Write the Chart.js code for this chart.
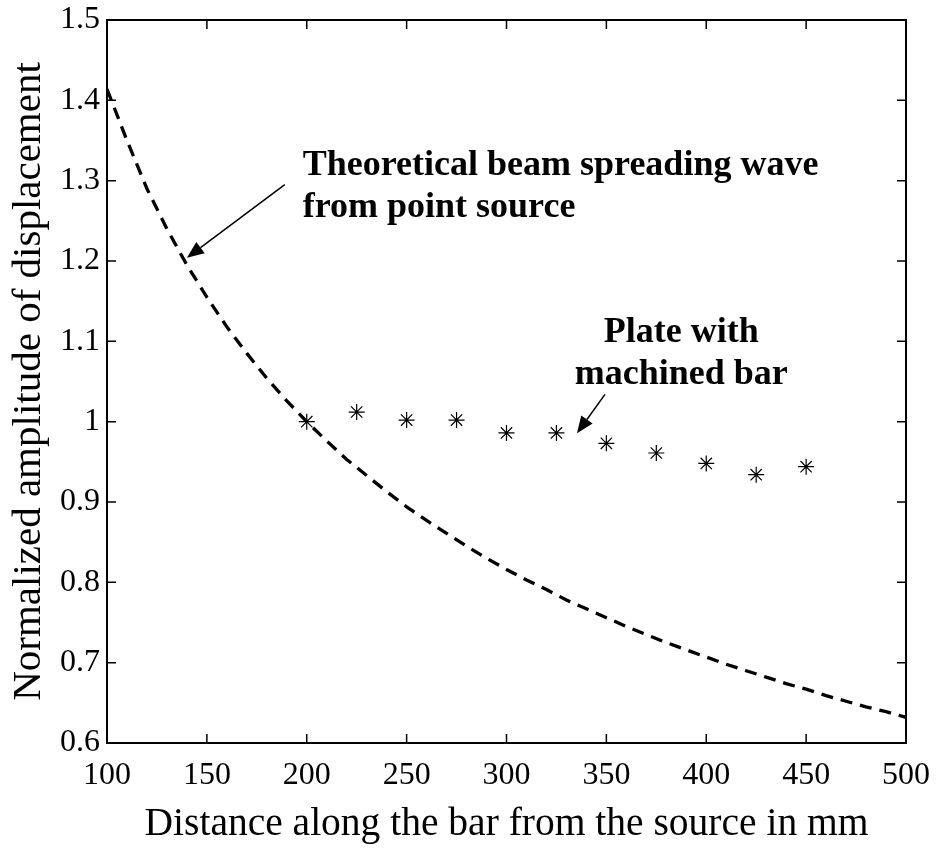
<!DOCTYPE html>
<html lang="en">
<head>
    <meta charset="UTF-8">
    <title>Normalized amplitude vs distance</title>
    <script src="https://cdn.jsdelivr.net/npm/chart.js"></script>
    <style>
        body {
            margin: 0;
            padding: 0;
            background: #ffffff;
        }
        .chart-box {
            width: 940px;
            height: 852px;
        }
    </style>
</head>
<body>
    <div class="chart-box">
        <canvas id="ampChart" width="940" height="852"></canvas>
    </div>

    <script>
        // Theoretical beam spreading curve
        const theoryX = [100, 110, 120, 130, 140, 150, 160, 170, 180, 190, 200, 210, 220, 230, 240, 250, 260, 270, 280, 290, 300,
                         310, 320, 330, 340, 350, 360, 370, 380, 390, 400, 410, 420, 430, 440, 450, 460, 470, 480, 490, 500];
        const theoryY = [1.414, 1.350, 1.290, 1.240, 1.195, 1.155, 1.118, 1.085, 1.054, 1.026, 1.000, 0.976, 0.953, 0.933, 0.913, 0.894,
                         0.877, 0.861, 0.845, 0.830, 0.816, 0.803, 0.791, 0.778, 0.767, 0.756, 0.745, 0.735, 0.725, 0.716, 0.707,
                         0.698, 0.690, 0.682, 0.674, 0.667, 0.659, 0.652, 0.645, 0.639, 0.632];

        // Plate with machined bar (measured points)
        const plateX = [200, 225, 250, 275, 300, 325, 350, 375, 400, 425, 450];
        const plateY = [1.000, 1.012, 1.002, 1.002, 0.986, 0.986, 0.973, 0.961, 0.948, 0.934, 0.944];

        // Axis ticks
        const xTicks = [100, 150, 200, 250, 300, 350, 400, 450, 500];
        const yTicks = [0.6, 0.7, 0.8, 0.9, 1.0, 1.1, 1.2, 1.3, 1.4, 1.5];
        const yTickLabels = ['0.6', '0.7', '0.8', '0.9', '1', '1.1', '1.2', '1.3', '1.4', '1.5'];

        const serif = '"Liberation Serif", "Times New Roman", serif';

        // Annotation text + arrows, placed in data coordinates
        const notes = [
            { lines: ['Theoretical beam spreading wave', 'from point source'], x: 198, y: 1.307, align: 'left',
              arrowFrom: [189, 1.295], arrowTo: [140, 1.204] },
            { lines: ['Plate with', 'machined bar'], x: 387.5, y: 1.0995, align: 'center',
              arrowFrom: [349.3, 1.034], arrowTo: [335.3, 0.9855] }
        ];

        function drawArrow(ctx, x1, y1, x2, y2) {
            const ang = Math.atan2(y2 - y1, x2 - x1);
            const headLen = 17, headW = 7;
            const bx = x2 - headLen * Math.cos(ang);
            const by = y2 - headLen * Math.sin(ang);
            ctx.beginPath();
            ctx.moveTo(x1, y1);
            ctx.lineTo(bx, by);
            ctx.lineWidth = 1.5;
            ctx.strokeStyle = '#000';
            ctx.stroke();
            ctx.beginPath();
            ctx.moveTo(x2, y2);
            ctx.lineTo(bx + headW * Math.sin(ang), by - headW * Math.cos(ang));
            ctx.lineTo(bx - headW * Math.sin(ang), by + headW * Math.cos(ang));
            ctx.closePath();
            ctx.fillStyle = '#000';
            ctx.fill();
        }

        // Box frame with inward ticks on all four sides, plus annotations
        const framePlugin = {
            id: 'frame',
            afterDraw(chart) {
                const ctx = chart.ctx;
                const a = chart.chartArea;
                const xs = chart.scales.x, ys = chart.scales.y;
                const tl = 9;
                ctx.save();
                ctx.strokeStyle = '#000';
                ctx.lineWidth = 1.5;
                ctx.beginPath();
                xTicks.forEach(v => {
                    const px = xs.getPixelForValue(v);
                    ctx.moveTo(px, a.bottom); ctx.lineTo(px, a.bottom - tl);
                    ctx.moveTo(px, a.top); ctx.lineTo(px, a.top + tl);
                });
                yTicks.forEach(v => {
                    const py = ys.getPixelForValue(v);
                    ctx.moveTo(a.left, py); ctx.lineTo(a.left + tl, py);
                    ctx.moveTo(a.right, py); ctx.lineTo(a.right - tl, py);
                });
                ctx.stroke();
                ctx.lineWidth = 2;
                ctx.strokeRect(a.left, a.top, a.right - a.left, a.bottom - a.top);

                ctx.font = 'bold 36px ' + serif;
                ctx.fillStyle = '#000';
                ctx.textBaseline = 'alphabetic';
                notes.forEach(n => {
                    ctx.textAlign = n.align;
                    const px = xs.getPixelForValue(n.x);
                    const py = ys.getPixelForValue(n.y);
                    n.lines.forEach((t, i) => ctx.fillText(t, px, py + i * 42));
                    drawArrow(ctx,
                        xs.getPixelForValue(n.arrowFrom[0]), ys.getPixelForValue(n.arrowFrom[1]),
                        xs.getPixelForValue(n.arrowTo[0]), ys.getPixelForValue(n.arrowTo[1]));
                });
                ctx.restore();
            }
        };

        const ctx = document.getElementById('ampChart').getContext('2d');
        const ampChart = new Chart(ctx, {
            type: 'scatter',
            data: {
                datasets: [{
                    label: 'Theoretical',
                    data: theoryX.map((x, i) => ({ x: x, y: theoryY[i] })),
                    showLine: true,
                    borderColor: '#000',
                    borderWidth: 3.3,
                    borderDash: [12, 8],
                    pointRadius: 0,
                    fill: false
                }, {
                    label: 'Plate with machined bar',
                    data: plateX.map((x, i) => ({ x: x, y: plateY[i] })),
                    showLine: false,
                    pointStyle: 'star',
                    pointRadius: 8,
                    borderColor: '#000',
                    backgroundColor: '#000',
                    borderWidth: 1.2
                }]
            },
            options: {
                responsive: false,
                animation: false,
                layout: { padding: { top: 20, right: 34, left: 0, bottom: 0 } },
                plugins: {
                    legend: { display: false },
                    tooltip: { enabled: false }
                },
                scales: {
                    x: {
                        type: 'linear',
                        min: 100,
                        max: 500,
                        afterFit: s => { s.height = 109; s.paddingLeft = 0; s.paddingRight = 0; },
                        afterBuildTicks: s => { s.ticks = xTicks.map(v => ({ value: v })); },
                        grid: { display: false, drawTicks: false },
                        border: { display: false },
                        ticks: {
                            color: '#000',
                            padding: 17,
                            maxRotation: 0,
                            font: { family: serif, size: 32, lineHeight: 1 },
                            callback: v => String(v)
                        },
                        title: {
                            display: true,
                            text: 'Distance along the bar from the source in mm',
                            color: '#000',
                            font: { family: serif, size: 39.5, lineHeight: 1 },
                            padding: { top: 0, bottom: 8 }
                        }
                    },
                    y: {
                        type: 'linear',
                        min: 0.6,
                        max: 1.5,
                        afterFit: s => { s.width = 107; s.paddingTop = 0; s.paddingBottom = 0; },
                        afterBuildTicks: s => { s.ticks = yTicks.map(v => ({ value: v })); },
                        grid: { display: false, drawTicks: false },
                        border: { display: false },
                        ticks: {
                            color: '#000',
                            padding: 7,
                            font: { family: serif, size: 32, lineHeight: 1 },
                            callback: v => yTickLabels[yTicks.findIndex(t => Math.abs(t - v) < 1e-6)]
                        },
                        title: {
                            display: true,
                            text: 'Normalized amplitude of displacement',
                            color: '#000',
                            font: { family: serif, size: 41, lineHeight: 1 },
                            padding: { top: 9, bottom: 0 }
                        }
                    }
                }
            },
            plugins: [framePlugin]
        });
    </script>
</body>
</html>
